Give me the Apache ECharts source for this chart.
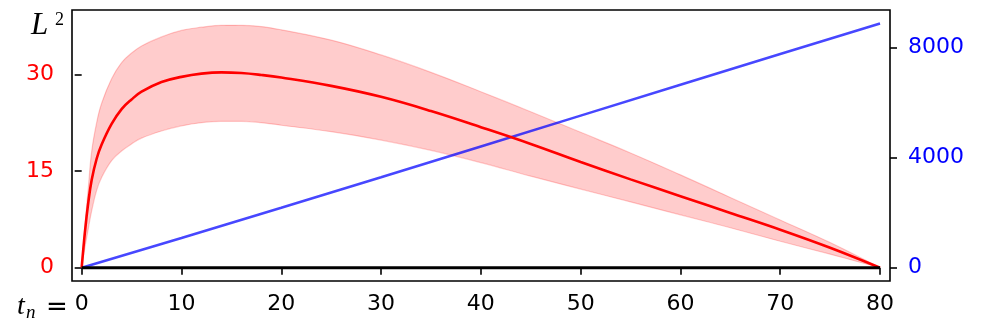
<!DOCTYPE html>
<html>
<head>
<meta charset="utf-8">
<script src="https://cdn.jsdelivr.net/npm/echarts@6/dist/echarts.min.js"></script>
<style>
html,body{margin:0;padding:0;background:#fff;}
#chart{width:995px;height:320px;}
</style>
</head>
<body>
<div id="chart"></div>
<script>
// ---- data ----
const tValues = [0, 0.33, 0.67, 1, 1.5, 2, 3, 4, 5, 6, 8, 10, 12, 14, 16, 18, 20, 25, 30, 35, 40, 45, 50, 55, 60, 65, 70, 75, 80];
const meanL2  = [0, 5.6, 10.2, 13.6, 16.9, 19.1, 22.3, 24.6, 26.1, 27.3, 28.8, 29.6, 30.1, 30.3, 30.2, 29.9, 29.5, 28.2, 26.5, 24.3, 21.8, 19.2, 16.4, 13.7, 11.1, 8.5, 5.9, 3.1, 0];
const upperL2 = [0, 6.5, 12.5, 18.0, 22.5, 25.5, 29.3, 31.8, 33.3, 34.4, 35.8, 36.8, 37.3, 37.6, 37.6, 37.4, 36.9, 35.3, 33.0, 30.3, 27.3, 24.2, 21.0, 17.8, 14.4, 10.9, 7.4, 3.9, 0];
const lowerL2 = [0, 3.2, 6.1, 8.8, 12.0, 14.0, 16.6, 18.1, 19.2, 20.1, 21.2, 22.0, 22.5, 22.7, 22.7, 22.5, 22.1, 21.1, 19.8, 18.2, 16.3, 14.2, 12.2, 10.2, 8.2, 6.2, 4.1, 2.1, 0];
const tBlue   = [0, 10, 20, 30, 40, 50, 60, 70, 80];
const blueVal = [0, 1080, 2180, 3290, 4410, 5530, 6650, 7770, 8880];
const tZero   = [0, 80];
const zeroVal = [0, 0];
const xTicks  = [0, 10, 20, 30, 40, 50, 60, 70, 80];
const leftTicks  = [0, 15, 30];
const rightTicks = [0, 4000, 8000];

const zip = (xs, ys) => xs.map((x, i) => [x, ys[i]]);
const SMOOTH = 0.4;

const chart = echarts.init(document.getElementById('chart'), null, {renderer: 'canvas'});
const tickFont = 'DejaVu Sans';
const option = {
  animation: false,
  backgroundColor: '#fff',
  grid: {left: 72, top: 10, width: 818, height: 271, show: true, borderColor: '#000', borderWidth: 1.6, backgroundColor: 'transparent', containLabel: false},
  xAxis: {
    type: 'value', min: -0.97, max: 81.0,
    splitLine: {show: false}, axisLine: {show: false},
    axisTick: {show: true, length: 7, lineStyle: {color: '#000', width: 1.6}, customValues: xTicks},
    axisLabel: {color: '#000', fontFamily: tickFont, fontSize: 22, margin: 12, customValues: xTicks, formatter: v => String(v)}
  },
  yAxis: [
    {
      type: 'value', min: -2.06, max: 39.97, position: 'left',
      splitLine: {show: false}, axisLine: {show: false},
      axisTick: {show: true, length: 7, lineStyle: {color: '#000', width: 1.6}, customValues: leftTicks},
      axisLabel: {color: '#ff0000', fontFamily: tickFont, fontSize: 22, margin: 18, customValues: leftTicks, formatter: v => String(v)}
    },
    {
      type: 'value', min: -484, max: 9371, position: 'right',
      splitLine: {show: false}, axisLine: {show: false},
      axisTick: {show: true, length: 7, lineStyle: {color: '#000', width: 1.6}, customValues: rightTicks},
      axisLabel: {color: '#0000ff', fontFamily: tickFont, fontSize: 22, margin: 18, customValues: rightTicks, formatter: v => String(v)}
    }
  ],
  series: [
    {
      name: 'band', type: 'custom', yAxisIndex: 0, data: zip(tValues, upperL2),
      encode: {x: 0, y: 1}, silent: true, z: 1, clip: true,
      renderItem: function (params, api) {
        if (params.dataIndex !== 0) return null;
        const pts = [];
        for (let i = 0; i < tValues.length; i++) pts.push(api.coord([tValues[i], upperL2[i]]));
        for (let i = tValues.length - 1; i >= 0; i--) pts.push(api.coord([tValues[i], lowerL2[i]]));
        return {type: 'polygon', shape: {points: pts, smooth: SMOOTH}, style: {fill: 'rgba(255,0,0,0.2)', stroke: null}};
      }
    },
    {
      name: 'upperEdge', type: 'line', yAxisIndex: 0, data: zip(tValues, upperL2),
      showSymbol: false, smooth: SMOOTH, lineStyle: {width: 1.2, color: 'rgba(255,0,0,0.2)'}, silent: true, z: 1
    },
    {
      name: 'lowerEdge', type: 'line', yAxisIndex: 0, data: zip(tValues, lowerL2),
      showSymbol: false, smooth: SMOOTH, lineStyle: {width: 1.2, color: 'rgba(255,0,0,0.2)'}, silent: true, z: 1
    },
    {
      name: 'blue', type: 'line', yAxisIndex: 1, data: zip(tBlue, blueVal),
      showSymbol: false, lineStyle: {width: 2.6, color: 'rgba(0,0,255,0.72)'}, silent: true, z: 2
    },
    {
      name: 'mean', type: 'line', yAxisIndex: 0, data: zip(tValues, meanL2),
      showSymbol: false, smooth: SMOOTH, lineStyle: {width: 2.6, color: '#ff0000'}, silent: true, z: 3
    },
    {
      name: 'zero', type: 'line', yAxisIndex: 0, data: zip(tZero, zeroVal),
      showSymbol: false, lineStyle: {width: 3, color: '#000'}, silent: true, z: 4
    }
  ],
  graphic: [
    {type: 'text', left: 31, top: 10, style: {text: 'L', font: 'italic 31px "Liberation Serif"', fill: '#000'}},
    {type: 'text', left: 55, top: 11, style: {text: '2', font: '18px "Liberation Serif"', fill: '#000'}},
    {type: 'text', left: 17, top: 293, style: {text: 't', font: 'italic 28px "Liberation Serif"', fill: '#000'}},
    {type: 'text', left: 26, top: 303, style: {text: 'n', font: 'italic 19px "Liberation Serif"', fill: '#000'}},
    {type: 'text', left: 46, top: 295, style: {text: '=', font: '26px "DejaVu Sans"', fill: '#000'}}
  ]
};
chart.setOption(option);
</script>
</body>
</html>
